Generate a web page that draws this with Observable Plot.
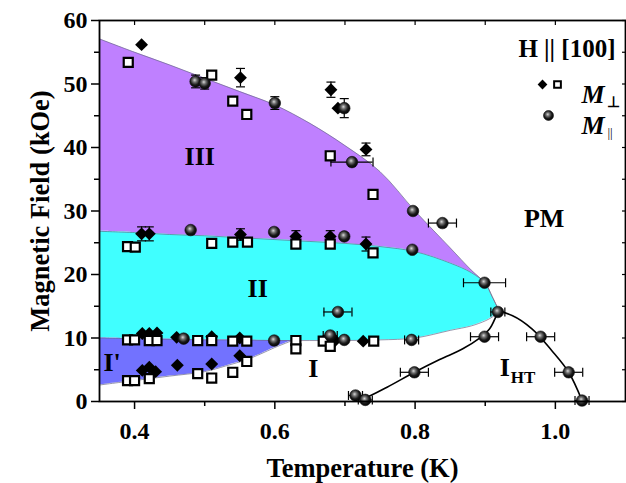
<!DOCTYPE html>
<html>
<head>
<meta charset="utf-8">
<script src="https://cdn.jsdelivr.net/npm/d3@7"></script>
<script src="https://cdn.jsdelivr.net/npm/@observablehq/plot@0.6"></script>
<style>
  html, body { margin: 0; padding: 0; background: white; }
  svg { display: block; }
</style>
</head>
<body>
<div id="chart"></div>
<script>
// ---- Phase boundaries (T in K, H in kOe) ----
const boundaryT      = [0.35, 0.40, 0.45, 0.50, 0.55, 0.60, 0.65, 0.70, 0.75, 0.80, 0.85, 0.88, 0.90, 0.91, 0.92];
const phaseIIITop    = [57.1, 55.0, 53.0, 50.9, 48.8, 46.7, 43.8, 40.3, 36.2, 30.0, 24.2, 20.7, 18.6, 16.5, 14.2];
const phaseIITop     = [26.8, 26.6, 26.3, 26.1, 25.8, 25.5, 25.2, 24.9, 24.4, 23.6, 21.8, 20.3, 18.6, 16.5, 14.2];
const phaseIIBottom  = [10.0,  9.9,  9.8,  9.7,  9.7,  9.6,  9.6,  9.6,  9.7, 10.0, 11.2, 11.9, 12.7, 13.3, 14.2];

const phaseIpT       = [0.35, 0.40, 0.45, 0.50, 0.53, 0.56, 0.58, 0.60, 0.625];
const phaseIpBottom  = [2.6,  3.3,  4.0,  4.7,  5.6,  6.6,  7.5,  8.5,  9.6];
const phaseIpTop     = [10.0, 9.9,  9.8,  9.7,  9.7,  9.7,  9.6,  9.6,  9.6];

const htLineT = [0.722, 0.731, 0.760, 0.799, 0.835, 0.868, 0.891, 0.906, 0.915, 0.918, 0.939, 0.967, 0.995, 1.019, 1.038];
const htLineH = [0.5,   0.68,  2.25,  4.6,   6.6,   8.3,   9.9,   11.4,  13.3,  14.1,  13.5,  11.4,  8.0,   4.6,   0.15];

// ---- M_perp : filled diamonds [T, H, yErr] ----
const perpDiamonds = [
  [0.410,56.2,0],[0.551,51.0,1.45],[0.680,49.1,1.2],[0.690,46.2,0],[0.730,39.7,1.0],
  [0.410,26.4,1.1],[0.421,26.4,1.1],[0.551,26.3,0.9],[0.630,26.0,0.9],[0.679,26.0,0.9],[0.730,24.8,1.1],
  [0.411,10.7,0],[0.421,10.7,0],[0.432,10.8,0],[0.460,10.1,0],[0.510,10.2,0],[0.550,10.0,0],[0.686,9.6,0],[0.726,9.5,0],
  [0.411,4.9,0],[0.421,5.4,0],[0.430,4.7,0],[0.461,5.7,0],[0.510,5.9,0],[0.550,7.2,0]
];
// ---- M_perp : open squares [T, H] ----
const perpSquares = [
  [0.391,53.4],[0.510,51.4],[0.540,47.3],[0.560,45.2],[0.679,38.7],[0.740,32.6],
  [0.390,24.4],[0.401,24.3],[0.510,24.9],[0.540,25.1],[0.561,25.1],[0.630,24.8],[0.679,24.8],[0.740,23.4],
  [0.390,9.7],[0.400,9.7],[0.421,9.6],[0.432,9.6],[0.490,9.6],[0.510,9.6],[0.540,9.5],[0.560,9.5],
  [0.630,9.6],[0.630,8.3],[0.669,9.5],[0.679,8.7],[0.741,9.5],
  [0.390,3.3],[0.400,3.3],[0.421,3.6],[0.490,4.4],[0.510,3.7],[0.540,4.6],[0.560,6.3]
];
// ---- M_par : spheres [T, H, xErr, yErr] ----
const parSpheres = [
  [0.487,50.4,0,1.0],[0.500,50.1,0,0.9],[0.600,47.0,0,1.0],[0.699,46.2,0,1.5],[0.710,37.7,0.03,0],
  [0.797,30.0,0,0],[0.839,28.1,0.02,0],[0.480,27.0,0,0],[0.599,26.7,0,0],[0.699,26.0,0,0],[0.796,23.9,0,0],
  [0.899,18.7,0.03,0],[0.690,14.1,0.02,0],[0.918,14.1,0.01,0],
  [0.470,9.9,0,0],[0.599,9.6,0,0],[0.679,10.4,0.01,0],[0.699,9.7,0,0],[0.795,9.7,0.01,0],
  [0.899,10.2,0.02,0],[0.979,10.2,0.02,0],[0.799,4.6,0.02,0],[1.019,4.6,0.02,0],
  [1.038,0.15,0.01,0],[0.715,0.95,0.01,0],[0.729,0.25,0.01,0]
];

const xMajor = [0.4, 0.6, 0.8, 1.0];
const xMinor = [0.5, 0.7, 0.9];
const yMajor = [0, 10, 20, 30, 40, 50, 60];
const yMinor = [5, 15, 25, 35, 45, 55];

// tables for the library
const bandRows = boundaryT.map((t, i) => ({t, iii: phaseIIITop[i], ii: phaseIITop[i], lo: phaseIIBottom[i]}));
const ipRows = phaseIpT.map((t, i) => ({t, lo: phaseIpBottom[i], hi: phaseIpTop[i]}));
const htRows = htLineT.map((t, i) => ({t, h: htLineH[i]}));
const dia = perpDiamonds.map(([t, h, e]) => ({t, h, e}));
const sq = perpSquares.map(([t, h]) => ({t, h}));
const sph = parSpheres.map(([t, h, ex, ey]) => ({t, h, ex, ey}));
const yErrRows = [...dia.filter(d => d.e > 0).map(d => ({t: d.t, h: d.h, e: d.e})),
                  ...sph.filter(d => d.ey > 0).map(d => ({t: d.t, h: d.h, e: d.ey}))];
const xErrRows = sph.filter(d => d.ex > 0);

const hCap = {draw(ctx, size) { const r = 4.5; ctx.moveTo(-r, 0); ctx.lineTo(r, 0); }};
const vCap = {draw(ctx, size) { const r = 4.5; ctx.moveTo(0, -r); ctx.lineTo(0, r); }};

const serif = "'Liberation Serif', 'Times New Roman', serif";
const curve = "catmull-rom";
const edge = {stroke: "#6a6a8a", strokeWidth: 0.7};

const chart = Plot.plot({
  width: 626, height: 483,
  marginLeft: 99, marginRight: 1, marginTop: 20, marginBottom: 82,
  style: {fontFamily: serif, fontWeight: "bold", fontSize: "24px", background: "white", color: "black", overflow: "visible"},
  x: {domain: [0.35, 1.1]},
  y: {domain: [0, 60]},
  marks: [
    Plot.areaY(bandRows, {x: "t", y1: "ii", y2: "iii", fill: "#bf80ff", curve}),
    Plot.areaY(bandRows, {x: "t", y1: "lo", y2: "ii", fill: "#40ffff", curve}),
    Plot.areaY(ipRows, {x: "t", y1: "lo", y2: "hi", fill: "#7272ff", curve}),
    Plot.line(bandRows, {x: "t", y: "iii", curve, ...edge}),
    Plot.line(bandRows, {x: "t", y: "ii", curve, ...edge}),
    Plot.line(bandRows, {x: "t", y: "lo", curve, ...edge}),
    Plot.line(ipRows, {x: "t", y: "lo", curve, ...edge}),
    Plot.line(htRows, {x: "t", y: "h", curve, stroke: "black", strokeWidth: 1.6}),

    // error bars
    Plot.ruleX(yErrRows, {x: "t", y1: d => d.h - d.e, y2: d => d.h + d.e, stroke: "black", strokeWidth: 1.2}),
    Plot.dot(yErrRows, {x: "t", y: d => d.h - d.e, symbol: hCap, stroke: "black", strokeWidth: 1.2}),
    Plot.dot(yErrRows, {x: "t", y: d => d.h + d.e, symbol: hCap, stroke: "black", strokeWidth: 1.2}),
    Plot.ruleY(xErrRows, {y: "h", x1: d => d.t - d.ex, x2: d => d.t + d.ex, stroke: "black", strokeWidth: 1.2}),
    Plot.dot(xErrRows, {y: "h", x: d => d.t - d.ex, symbol: vCap, stroke: "black", strokeWidth: 1.2}),
    Plot.dot(xErrRows, {y: "h", x: d => d.t + d.ex, symbol: vCap, stroke: "black", strokeWidth: 1.2}),

    // data
    Plot.dot(dia, {x: "t", y: "h", symbol: "diamond2", r: 5.8, fill: "black", stroke: "none"}),
    Plot.dot(sq, {x: "t", y: "h", symbol: "square", r: 5.1, fill: "white", stroke: "black", strokeWidth: 2.2}),
    Plot.dot(sph, {x: "t", y: "h", r: 5.8, fill: "url(#sphereGrad)", stroke: "#111", strokeWidth: 0.6}),

    // region labels
    Plot.text([{t: 0.493, h: 38.6, s: "III"}, {t: 0.5755, h: 17.8, s: "II"}, {t: 0.368, h: 6.1, s: "I'"},
               {t: 0.655, h: 5.2, s: "I"}, {t: 0.928, h: 5.4, s: "I"}, {t: 0.984, h: 28.8, s: "PM"}],
      {x: "t", y: "h", text: "s", fontSize: 26, fontWeight: "bold", fill: "black"}),
    Plot.text([{t: 0.928, h: 5.4}], {x: "t", y: "h", text: () => "HT", dx: 6, dy: 10, textAnchor: "start", fontSize: 17, fontWeight: "bold", fill: "black"}),

    // legend
    Plot.text(["H || [100]"], {frameAnchor: "top-right", dx: -10, dy: 19, textAnchor: "end", fontSize: 25, fontWeight: "bold", fill: "black"}),
    Plot.dot([0], {frameAnchor: "top-right", dx: -83, dy: 64, symbol: "diamond2", r: 4.4, fill: "black"}),
    Plot.dot([0], {frameAnchor: "top-right", dx: -68, dy: 64, symbol: "square", r: 3.8, fill: "white", stroke: "black", strokeWidth: 2}),
    Plot.dot([0], {frameAnchor: "top-right", dx: -77, dy: 95, r: 5, fill: "url(#sphereGrad)", stroke: "#111", strokeWidth: 0.6}),
    Plot.text(["M"], {frameAnchor: "top-right", dx: -44, dy: 64, textAnchor: "start", fontSize: 26, fontStyle: "italic", fontWeight: "bold", fill: "black"}),
    Plot.text(["⊥"], {frameAnchor: "top-right", dx: -19, dy: 76, textAnchor: "start", fontSize: 15, fontWeight: "bold", fill: "black"}),
    Plot.text(["M"], {frameAnchor: "top-right", dx: -44, dy: 95, textAnchor: "start", fontSize: 26, fontStyle: "italic", fontWeight: "bold", fill: "black"}),
    Plot.text(["||"], {frameAnchor: "top-right", dx: -18, dy: 107, textAnchor: "start", fontSize: 13, fontWeight: "normal", fill: "black"}),

    // axis titles
    Plot.text(["Temperature (K)"], {frameAnchor: "bottom", dy: 67, lineAnchor: "middle", textAnchor: "middle", fontSize: 26.5, fontWeight: "bold", fill: "black"}),
    Plot.text(["Magnetic Field (kOe)"], {frameAnchor: "left", dx: -59, rotate: -90, textAnchor: "middle", lineAnchor: "middle", fontSize: 26.5, fontWeight: "bold", fill: "black"}),

    // axes
    Plot.axisX({ticks: xMajor, tickFormat: d3.format(".1f"), tickSize: 8, tickPadding: 12, label: null, fontSize: 24, strokeWidth: 1.5}),
    Plot.axisX({ticks: xMinor, tickFormat: () => "", tickSize: 5, label: null, strokeWidth: 1.5}),
    Plot.axisX({anchor: "top", ticks: [...xMajor, ...xMinor], tickFormat: () => "", tickSize: -4, label: null, strokeWidth: 1.2}),
    Plot.axisY({ticks: yMajor, tickFormat: d3.format("d"), tickSize: 8, tickPadding: 4, label: null, fontSize: 24, strokeWidth: 1.5}),
    Plot.axisY({ticks: yMinor, tickFormat: () => "", tickSize: 5, label: null, strokeWidth: 1.5}),
    Plot.axisY({anchor: "right", ticks: [...yMajor, ...yMinor], tickFormat: () => "", tickSize: -4, label: null, strokeWidth: 1.2}),
    Plot.frame({stroke: "black", strokeWidth: 1.8})
  ]
});

const svg = d3.select(chart);
const grad = svg.insert("defs", ":first-child").append("radialGradient")
  .attr("id", "sphereGrad").attr("cx", "45%").attr("cy", "42%").attr("r", "60%").attr("fx", "42%").attr("fy", "38%");
grad.append("stop").attr("offset", "0%").attr("stop-color", "#d8d8d8");
grad.append("stop").attr("offset", "30%").attr("stop-color", "#707070");
grad.append("stop").attr("offset", "65%").attr("stop-color", "#1a1a1a");
grad.append("stop").attr("offset", "100%").attr("stop-color", "#000");

document.getElementById("chart").appendChild(chart);
</script>
</body>
</html>
